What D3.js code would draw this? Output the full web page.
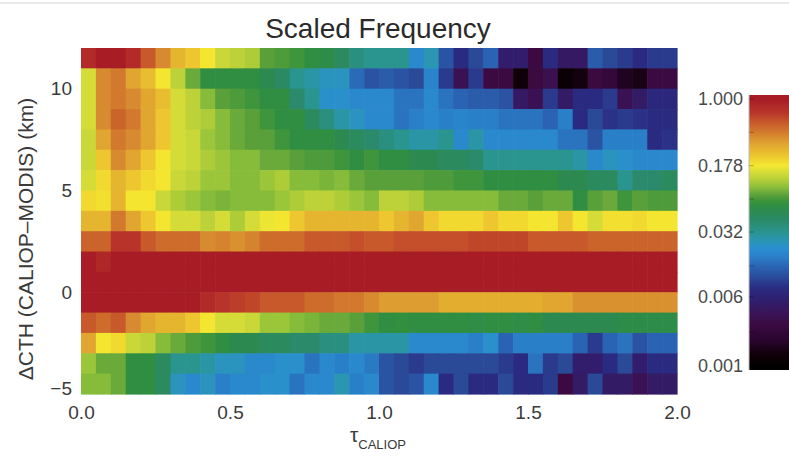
<!DOCTYPE html>
<html>
<head>
<meta charset="utf-8">
<script src="https://cdn.jsdelivr.net/npm/d3@7"></script>
<style>
  html, body { margin: 0; padding: 0; background: #fff; overflow: hidden; }
  svg { display: block; font-family: "Liberation Sans", Arial, Helvetica, sans-serif; }
</style>
</head>
<body>
<svg id="chart" width="789" height="459"></svg>
<script>
// Lower edge of each optical-depth bin (tau_CALIOP)
const tauEdges = [0.00, 0.05, 0.10, 0.15, 0.20, 0.25, 0.30, 0.35, 0.40, 0.45,
                  0.50, 0.55, 0.60, 0.65, 0.70, 0.75, 0.80, 0.85, 0.90, 0.95,
                  1.00, 1.05, 1.10, 1.15, 1.20, 1.25, 1.30, 1.35, 1.40, 1.45,
                  1.50, 1.55, 1.60, 1.65, 1.70, 1.75, 1.80, 1.85, 1.90, 1.95];
const tauWidth = 0.05;

// Lower edge of each cloud-top-height difference bin (km), top row first
const cthEdges = [11, 10, 9, 8, 7, 6, 5, 4, 3, 2, 1, 0, -1, -2, -3, -4, -5];
const cthWidth = 1;

// Scaled frequency, one row per cthEdges entry, one column per tauEdges entry
const freq = [
  [0.81,1.0,1.0,0.81,0.54,0.38,0.27,0.23,0.18,0.14, 0.13,0.12,0.083,0.078,0.072,0.063,0.059,0.048,0.036,0.032, 0.032,0.032,0.019,0.026,0.011,0.0074,0.0098,0.013,0.0052,0.0052, 0.0028,0.0074,0.0046,0.0046,0.012,0.0098,0.0085,0.0074,0.0085,0.0085],
  [0.15,0.38,0.43,0.31,0.25,0.18,0.13,0.089,0.063,0.063, 0.063,0.063,0.055,0.045,0.032,0.028,0.024,0.024,0.014,0.011, 0.012,0.011,0.0098,0.018,0.0085,0.0037,0.0085,0.0028,0.0028,0.0013, 0.0028,0.0035,0.0012,0.0014,0.0028,0.0025,0.0017,0.0015,0.0028,0.0028],
  [0.15,0.38,0.43,0.38,0.31,0.25,0.15,0.13,0.10,0.083, 0.078,0.072,0.063,0.063,0.042,0.032,0.022,0.022,0.019,0.019, 0.019,0.015,0.015,0.019,0.015,0.013,0.012,0.012,0.011,0.0046, 0.0037,0.0085,0.0049,0.0074,0.0074,0.0085,0.0037,0.0049,0.0069,0.0069],
  [0.15,0.38,0.50,0.43,0.31,0.23,0.15,0.13,0.12,0.10, 0.089,0.083,0.072,0.063,0.063,0.048,0.036,0.028,0.024,0.019, 0.019,0.015,0.017,0.019,0.017,0.018,0.017,0.017,0.015,0.015, 0.015,0.013,0.017,0.0074,0.0098,0.0079,0.0085,0.0079,0.0074,0.0074],
  [0.14,0.31,0.43,0.38,0.31,0.23,0.15,0.14,0.11,0.10, 0.089,0.083,0.083,0.072,0.063,0.063,0.063,0.055,0.048,0.042, 0.036,0.032,0.028,0.028,0.032,0.019,0.028,0.019,0.019,0.019, 0.019,0.019,0.015,0.015,0.011,0.017,0.017,0.017,0.0074,0.0079],
  [0.14,0.23,0.38,0.31,0.23,0.18,0.15,0.14,0.12,0.11, 0.10,0.10,0.089,0.089,0.083,0.078,0.078,0.072,0.063,0.072, 0.063,0.063,0.055,0.055,0.048,0.048,0.042,0.032,0.032,0.032, 0.032,0.032,0.032,0.028,0.019,0.024,0.022,0.019,0.019,0.019],
  [0.15,0.20,0.27,0.23,0.20,0.18,0.14,0.13,0.11,0.11, 0.10,0.10,0.11,0.12,0.10,0.10,0.095,0.10,0.089,0.083, 0.083,0.083,0.083,0.078,0.078,0.072,0.072,0.063,0.063,0.063, 0.063,0.063,0.055,0.055,0.048,0.048,0.032,0.042,0.042,0.048],
  [0.20,0.19,0.27,0.18,0.18,0.14,0.12,0.11,0.10,0.095, 0.10,0.10,0.10,0.11,0.12,0.13,0.13,0.12,0.11,0.10, 0.13,0.13,0.12,0.10,0.10,0.10,0.10,0.10,0.089,0.089, 0.083,0.089,0.089,0.063,0.083,0.089,0.072,0.083,0.078,0.078],
  [0.27,0.27,0.43,0.31,0.23,0.18,0.15,0.15,0.13,0.15, 0.12,0.15,0.17,0.18,0.23,0.27,0.27,0.27,0.27,0.27, 0.23,0.27,0.31,0.23,0.20,0.20,0.20,0.23,0.20,0.20, 0.18,0.18,0.23,0.18,0.15,0.19,0.19,0.20,0.18,0.18],
  [0.50,0.50,0.71,0.71,0.54,0.47,0.47,0.47,0.38,0.40, 0.36,0.40,0.47,0.47,0.47,0.54,0.54,0.54,0.58,0.54, 0.54,0.58,0.58,0.58,0.58,0.58,0.62,0.62,0.62,0.62, 0.54,0.54,0.54,0.54,0.50,0.50,0.50,0.50,0.50,0.50],
  [1.0,0.85,1.0,1.0,1.0,1.0,1.0,1.0,1.0,1.0, 1.0,1.0,1.0,1.0,1.0,1.0,1.0,1.0,1.0,1.0, 1.0,1.0,1.0,1.0,1.0,1.0,1.0,1.0,1.0,1.0, 1.0,1.0,1.0,1.0,1.0,1.0,1.0,1.0,1.0,1.0],
  [1.0,1.0,1.0,1.0,1.0,1.0,1.0,1.0,1.0,1.0, 1.0,1.0,1.0,1.0,1.0,1.0,1.0,1.0,1.0,1.0, 1.0,1.0,1.0,1.0,1.0,1.0,1.0,1.0,1.0,1.0, 1.0,1.0,1.0,1.0,1.0,1.0,1.0,1.0,1.0,1.0],
  [1.0,1.0,1.0,1.0,1.0,1.0,1.0,1.0,0.81,0.71, 0.66,0.62,0.54,0.54,0.54,0.47,0.47,0.43,0.43,0.38, 0.33,0.33,0.33,0.33,0.29,0.29,0.29,0.29,0.29,0.29, 0.29,0.31,0.31,0.36,0.36,0.36,0.36,0.36,0.36,0.36],
  [0.54,0.47,0.54,0.38,0.31,0.27,0.27,0.23,0.18,0.15, 0.15,0.14,0.11,0.11,0.10,0.095,0.089,0.089,0.083,0.072, 0.063,0.066,0.063,0.063,0.063,0.063,0.060,0.063,0.063,0.060, 0.063,0.055,0.055,0.055,0.055,0.055,0.059,0.059,0.059,0.059],
  [0.31,0.18,0.20,0.14,0.13,0.10,0.089,0.078,0.072,0.063, 0.055,0.055,0.048,0.048,0.042,0.042,0.036,0.036,0.028,0.028, 0.028,0.028,0.019,0.019,0.019,0.019,0.017,0.022,0.013,0.017, 0.017,0.017,0.017,0.013,0.0085,0.013,0.015,0.011,0.013,0.013],
  [0.11,0.089,0.089,0.063,0.063,0.048,0.032,0.032,0.028,0.024, 0.024,0.019,0.019,0.022,0.022,0.015,0.019,0.017,0.019,0.016, 0.011,0.0098,0.0085,0.0098,0.0098,0.0098,0.0098,0.0098,0.0085,0.0074, 0.015,0.0085,0.0098,0.0052,0.0052,0.0074,0.0098,0.0052,0.0074,0.0074],
  [0.10,0.10,0.089,0.063,0.063,0.048,0.024,0.019,0.024,0.017, 0.019,0.019,0.022,0.022,0.015,0.019,0.019,0.026,0.017,0.019, 0.011,0.0098,0.011,0.019,0.0074,0.0098,0.0074,0.0074,0.0098,0.0074, 0.0074,0.0085,0.0028,0.0049,0.0098,0.0049,0.0049,0.0037,0.0049,0.0049]
];

// Axis ticks
const xTicks = [0, 0.5, 1.0, 1.5, 2.0];
const yTicks = [-5, 0, 5, 10];
const cbTicks = [1.0, 0.178, 0.032, 0.006, 0.001];
const cbTickLabels = ["1.000", "0.178", "0.032", "0.006", "0.001"];

// Rainbow colour table (position along the log colour axis -> colour)
const cmapPos = [0.00, 0.04, 0.10, 0.15, 0.20, 0.25, 0.29, 0.33, 0.37, 0.41, 0.44, 0.47, 0.50, 0.54, 0.58, 0.61, 0.64, 0.67, 0.70, 0.73, 0.75, 0.79, 0.83, 0.87, 0.91, 0.95, 1.00];
const cmapCol = ["#000000", "#100008", "#2a0530", "#3a0a40", "#3a1458", "#2e2070", "#2a2a80", "#2a4a98", "#2a62b2", "#2a80c8", "#2a8ed2", "#2a96b4", "#2a9490", "#2a8a6c", "#2c8a50", "#32903c", "#5aa03a", "#8cc03a", "#b8d038", "#dade38", "#f4e830", "#ecc430", "#e0a630", "#d4802e", "#c85a2a", "#b8342a", "#a81c26"];

const svg = d3.select("#chart");
const W = 789, H = 459;

// thin rule across the top
svg.append("rect").attr("x", 0).attr("y", 2).attr("width", W).attr("height", 2).attr("fill", "#e8e8e8");

const x = d3.scaleLinear().domain([0, 2]).range([81, 677]);
const y = d3.scaleLinear().domain([-5, 12]).range([394, 48]);

const logPos = d3.scaleLog().domain([0.001, 1]).range([0, 1]).clamp(true);
const ramp = d3.scaleLinear().domain(cmapPos).range(cmapCol).interpolate(d3.interpolateRgb).clamp(true);
const color = v => ramp(logPos(v));

// heat-map cells
const cells = [];
freq.forEach((row, i) => row.forEach((v, j) => cells.push({ tau: tauEdges[j], cth: cthEdges[i], v })));

svg.append("g").selectAll("rect").data(cells).join("rect")
  .attr("x", d => x(d.tau))
  .attr("y", d => y(d.cth + cthWidth))
  .attr("width", d => x(d.tau + tauWidth) - x(d.tau) + 0.6)
  .attr("height", d => y(d.cth) - y(d.cth + cthWidth) + 0.6)
  .attr("fill", d => color(d.v));

// axes
const tickFont = 19, textCol = "#3a3a3a";
const xAxis = svg.append("g").attr("transform", "translate(0,394)")
  .call(d3.axisBottom(x).tickValues(xTicks).tickFormat(d3.format(".1f")).tickSize(0).tickPadding(12));
const yAxis = svg.append("g").attr("transform", "translate(81,0)")
  .call(d3.axisLeft(y).tickValues(yTicks).tickFormat(d => d < 0 ? "\u2212" + Math.abs(d) : d).tickSize(0).tickPadding(9));
[xAxis, yAxis].forEach(g => {
  g.select(".domain").remove();
  g.selectAll("text").attr("font-size", tickFont).attr("fill", textCol).attr("font-family", "Liberation Sans, Arial, sans-serif");
});
yAxis.selectAll("text").filter(d => d === -5).attr("dy", "0.05em");

// titles
svg.append("text").attr("x", 378).attr("y", 38).attr("text-anchor", "middle")
  .attr("font-size", 28).attr("fill", "#2a2a2a").text("Scaled Frequency");

svg.append("text").attr("transform", "translate(33,239) rotate(-90)").attr("text-anchor", "middle")
  .attr("font-size", 21).attr("fill", textCol).text("\u0394CTH (CALIOP\u2013MODIS) (km)");

const xt = svg.append("text").attr("x", 378).attr("y", 442).attr("text-anchor", "middle").attr("fill", textCol);
xt.append("tspan").attr("font-size", 21).text("\u03c4");
xt.append("tspan").attr("font-size", 13).attr("dy", 7).text("CALIOP");

// colour bar
const cbX = 749, cbTop = 95, cbBot = 370;
const cb = d3.scaleLog().domain([1, 0.001]).range([99, 366]);
const defs = svg.append("defs");
const grad = defs.append("linearGradient").attr("id", "cbgrad")
  .attr("gradientUnits", "userSpaceOnUse").attr("x1", 0).attr("x2", 0).attr("y1", cb(1)).attr("y2", cb(0.001));
d3.range(0, 61).forEach(k => {
  const f = k / 60;
  grad.append("stop").attr("offset", f).attr("stop-color", ramp(1 - f));
});
svg.append("rect").attr("x", cbX).attr("y", cbTop).attr("width", 60).attr("height", cbBot - cbTop)
  .attr("fill", "url(#cbgrad)");
svg.append("line").attr("x1", cbX).attr("x2", cbX).attr("y1", cbTop).attr("y2", cbBot)
  .attr("stroke", "#bbb").attr("stroke-width", 1);

const cbAxis = svg.append("g").attr("transform", `translate(${cbX},0)`)
  .call(d3.axisLeft(cb).tickValues(cbTicks).tickFormat((d, i) => cbTickLabels[i]).tickSize(0).tickPadding(6));
cbAxis.select(".domain").remove();
cbAxis.selectAll("text").attr("font-size", 18).attr("fill", "#4a4a4a").attr("font-family", "Liberation Sans, Arial, sans-serif");

// minor ticks along the left edge of the bar
const minor = [1, 0.422, 0.178, 0.075, 0.032, 0.0133, 0.006, 0.0024, 0.001];
svg.append("g").selectAll("line").data(minor).join("line")
  .attr("x1", cbX).attr("x2", cbX + 5).attr("y1", d => cb(d)).attr("y2", d => cb(d))
  .attr("stroke", "rgba(0,0,0,0.25)").attr("stroke-width", 1);
</script>
</body>
</html>
